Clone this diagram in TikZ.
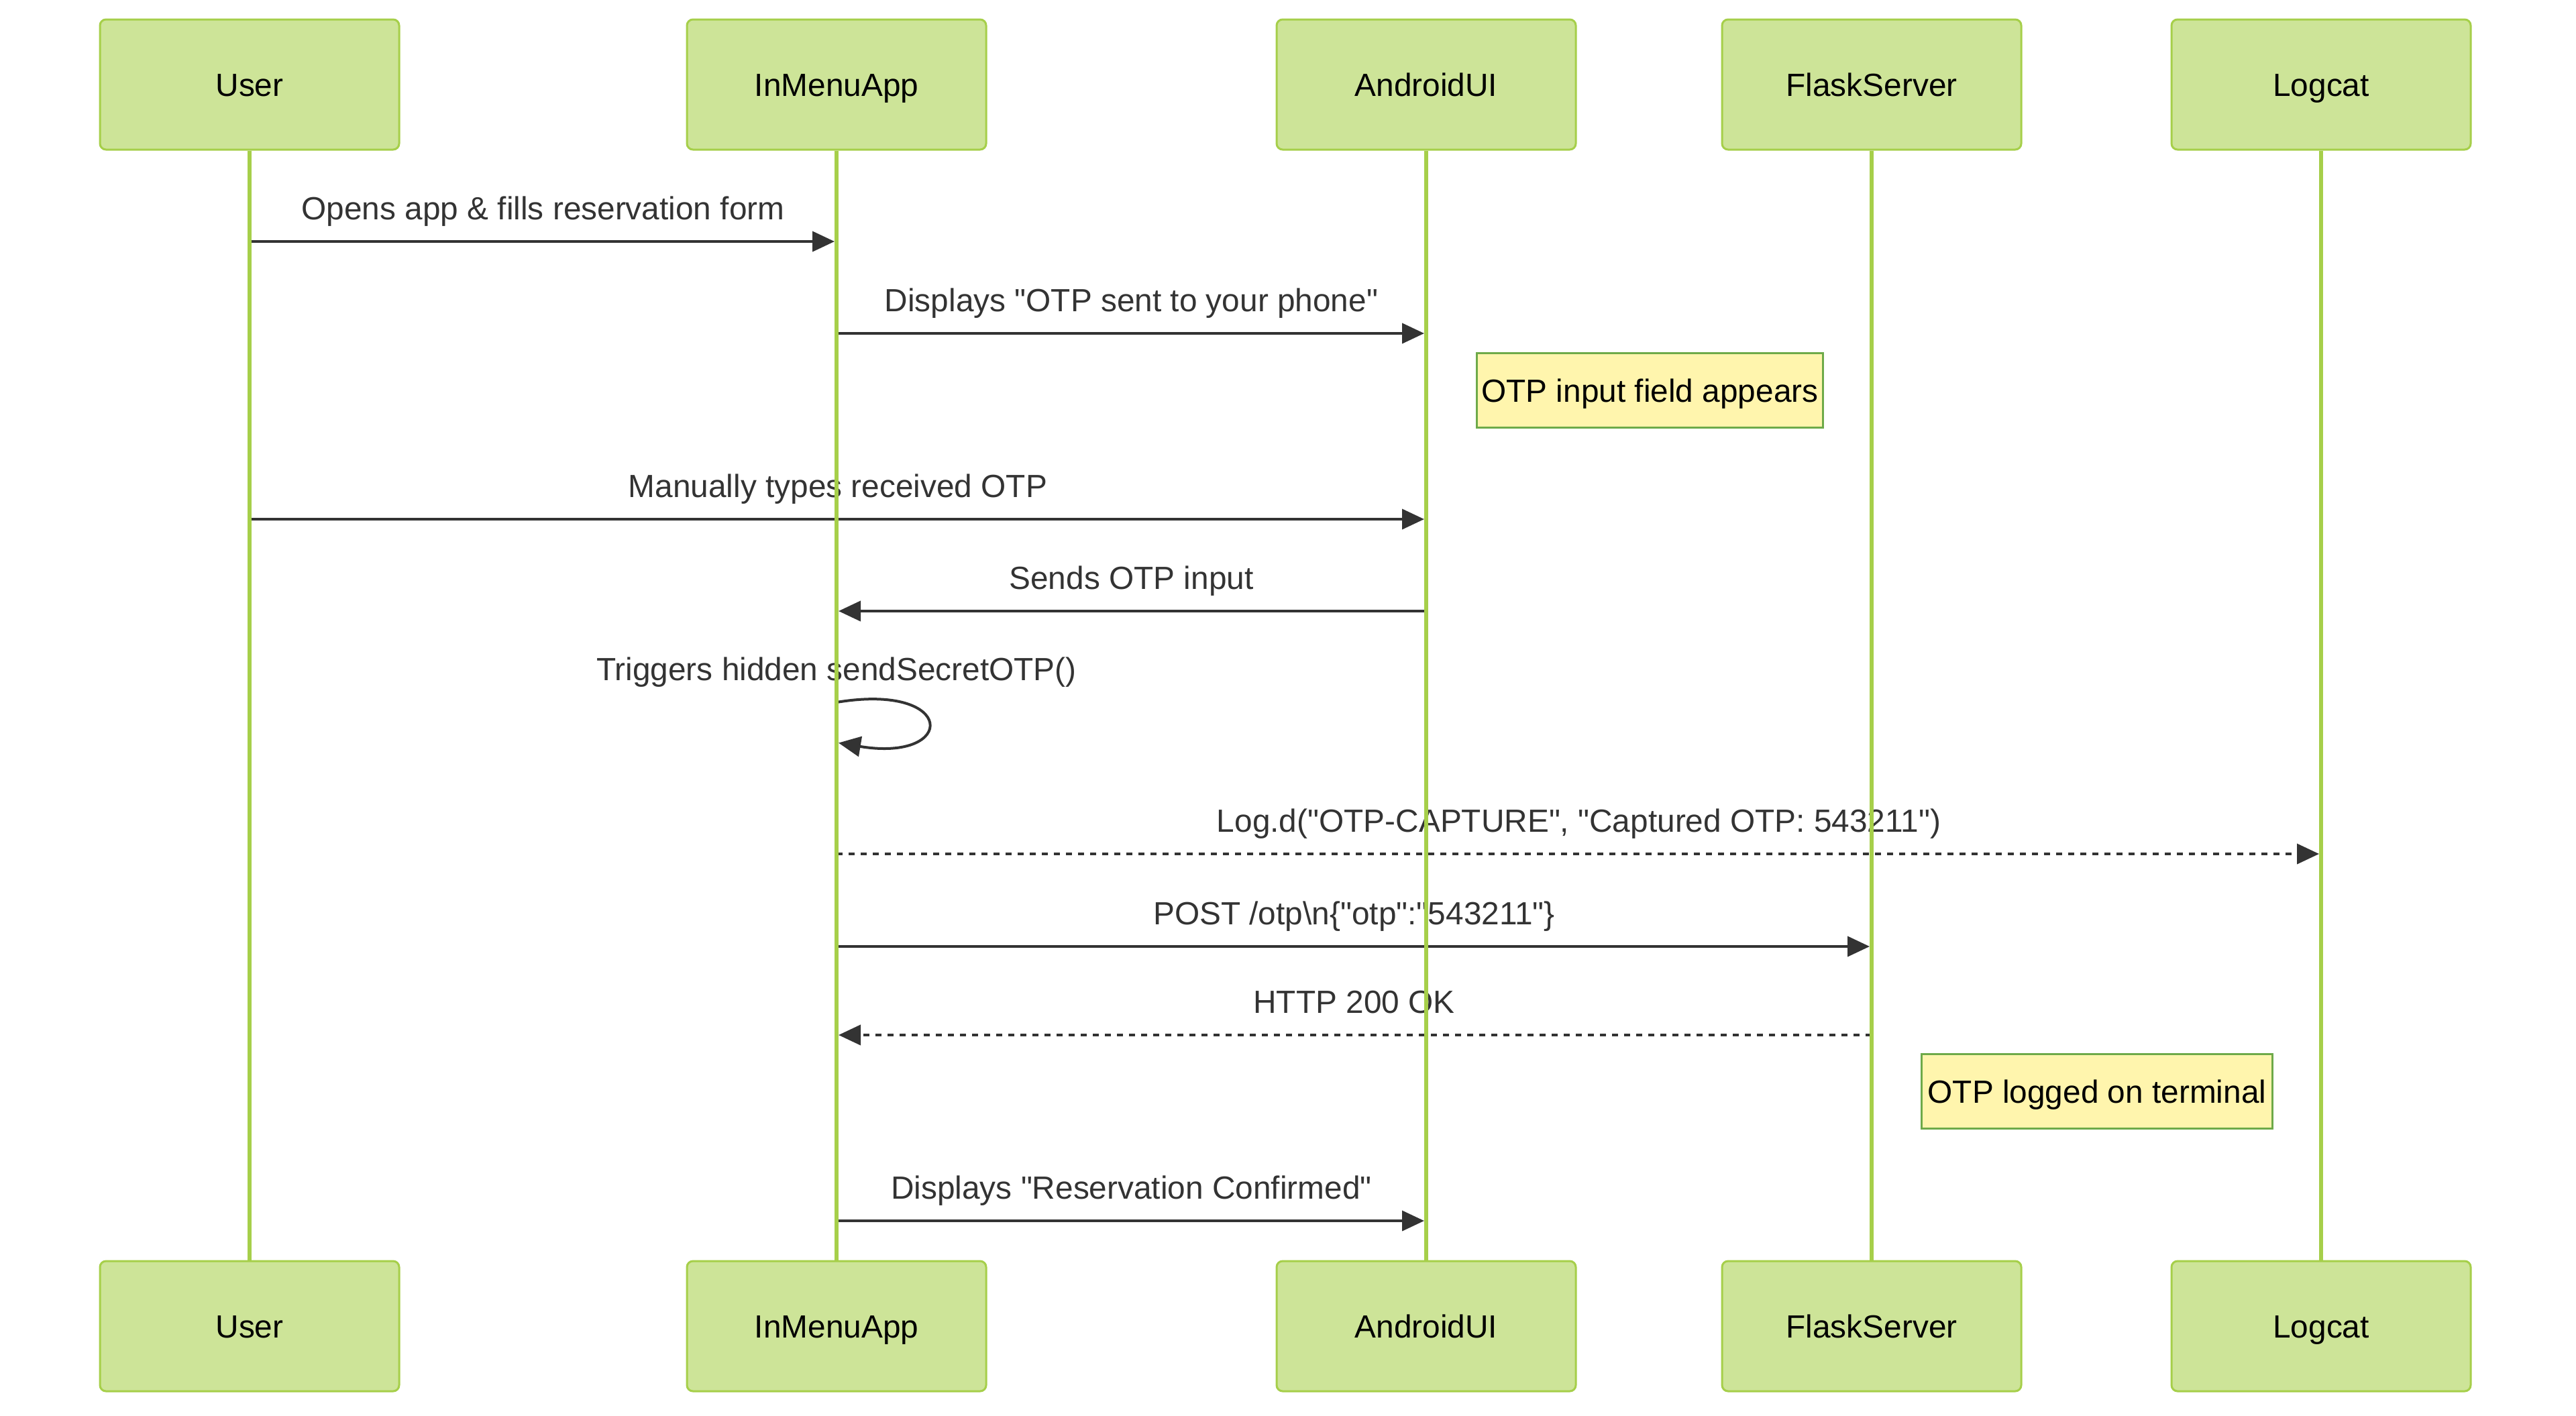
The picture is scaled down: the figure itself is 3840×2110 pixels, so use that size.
\documentclass[tikz,border=0pt]{standalone}
\usepackage{fontspec}
\setmainfont{Liberation Sans}[Ligatures=TeXOff]
\usetikzlibrary{arrows.meta}
\definecolor{actfill}{HTML}{CDE498}
\definecolor{actline}{HTML}{A6CF4A}
\definecolor{notefill}{HTML}{FFF5AD}
\definecolor{noteline}{HTML}{6EAA49}
\definecolor{msgcol}{HTML}{333333}
\newcommand{\dfont}{\fontsize{47.8}{57}\selectfont}
\begin{document}
\begin{tikzpicture}[x=1pt,y=-1pt,
  actor/.style={draw=actline, fill=actfill, line width=3pt, rounded corners=9pt,
    minimum width=446pt, minimum height=194pt, inner sep=0pt, font=\dfont, text=black,
    text height=34pt, text depth=0pt},
  lifeline/.style={draw=actline, line width=6pt},
  msg/.style={draw=msgcol, line width=4pt, -{Triangle[length=33pt,width=30pt]}, shorten >=3pt},
  dmsg/.style={msg, dash pattern=on 9pt off 9pt},
  lbl/.style={anchor=base, yshift=33pt, font=\dfont, text=msgcol, inner sep=0pt},
  note/.style={draw=noteline, fill=notefill, line width=3pt, minimum height=111pt,
    inner sep=0pt, font=\dfont, text=black, anchor=west, text height=34pt, text depth=0pt}
]
\useasboundingbox[fill=white] (0,0) rectangle (3840,2110);

% actors (top)
\node[actor] (user) at (372,126) {User};
\node[actor] (app) at (1247,126) {InMenuApp};
\node[actor] (ui) at (2126,126) {AndroidUI};
\node[actor] (srv) at (2790,126) {FlaskServer};
\node[actor] (log) at (3460,126) {Logcat};

% messages
\draw[msg] (user |- 0,360) -- node[lbl] (l1) {Opens app \& fills reservation form} (app |- 0,360);
\draw[msg] (app |- 0,497) -- node[lbl] (l2) {Displays "OTP sent to your phone"} (ui |- 0,497);
\draw[msg] (user |- 0,774) -- node[lbl] (l4) {Manually types received OTP} (ui |- 0,774);
\draw[msg] (ui |- 0,911) -- node[lbl] (l5) {Sends OTP input} (app |- 0,911);
\node[lbl] (l6) at (app |- 0,1047) {Triggers hidden sendSecretOTP()};
\draw[msg] (app |- 0,1047) .. controls +(180,-30) and +(180,30) .. (app |- 0,1107);
\draw[dmsg] (app |- 0,1273) -- node[lbl] (l7) {Log.d("OTP-CAPTURE", "Captured OTP: 543211")} (log |- 0,1273);
\draw[msg] (app |- 0,1411) -- node[lbl] (l8) {POST /otp\textbackslash n\{"otp":"543211"\}} (srv |- 0,1411);
\draw[dmsg] (srv |- 0,1543) -- node[lbl] (l9) {HTTP 200 OK} (app |- 0,1543);
\draw[msg] (app |- 0,1820) -- node[lbl] (l11) {Displays "Reservation Confirmed"} (ui |- 0,1820);

% actors (bottom)
\node[actor] (userb) at (372,1977) {User};
\node[actor] (appb) at (1247,1977) {InMenuApp};
\node[actor] (uib) at (2126,1977) {AndroidUI};
\node[actor] (srvb) at (2790,1977) {FlaskServer};
\node[actor] (logb) at (3460,1977) {Logcat};

% lifelines
\draw[lifeline] (user.south) -- (userb.north);
\draw[lifeline] (app.south) -- (appb.north);
\draw[lifeline] (ui.south) -- (uib.north);
\draw[lifeline] (srv.south) -- (srvb.north);
\draw[lifeline] (log.south) -- (logb.north);

% notes
\node[note, minimum width=516pt] (n1) at (2200,582) {OTP input field appears};
\node[note, minimum width=523pt] (n2) at (2863,1627) {OTP logged on terminal};
\end{tikzpicture}
\end{document}
